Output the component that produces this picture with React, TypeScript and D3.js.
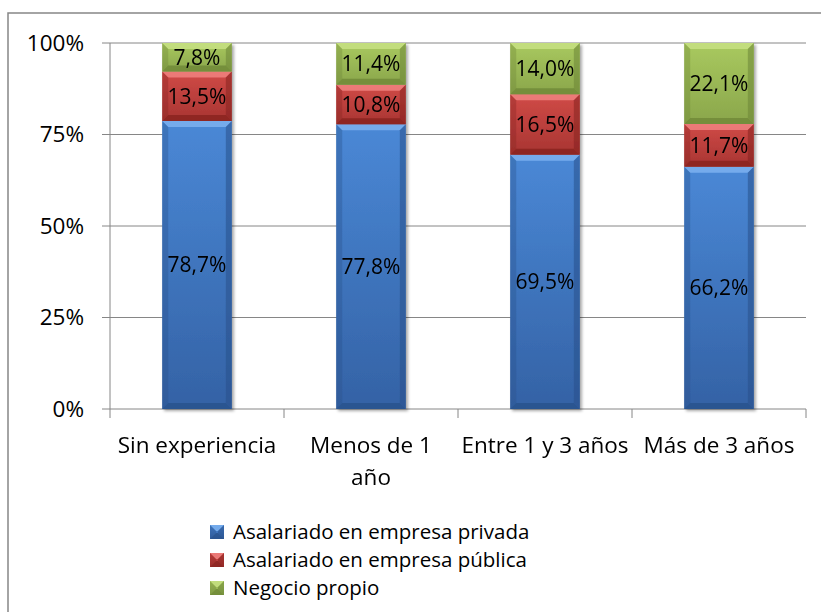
import * as d3 from "d3";

const categories = ["Sin experiencia", "Menos de 1 año", "Entre 1 y 3 años", "Más de 3 años"];
const categoryLines = [["Sin experiencia"], ["Menos de 1", "año"], ["Entre 1 y 3 años"], ["Más de 3 años"]];
const seriesNames = ["Asalariado en empresa privada", "Asalariado en empresa pública", "Negocio propio"];
const privada = [78.7, 77.8, 69.5, 66.2];
const publica = [13.5, 10.8, 16.5, 11.7];
const propio = [7.8, 11.4, 14.0, 22.1];
const yTicks = [0, 25, 50, 75, 100];

const palette = [
    { id: "blue", top: "#4a88d6", bottom: "#3462a5", light: "#7db2f0", dark: "#28508a" },
    { id: "red", top: "#d04a47", bottom: "#a83532", light: "#f08280", dark: "#85231f" },
    { id: "green", top: "#a9c95f", bottom: "#8aa64b", light: "#c7e182", dark: "#6c8536" },
];

const width = 821;
const height = 612;
const plotLeft = 110;
const plotRight = 806;
const plotTop = 43;
const plotBottom = 409;
const font = "'Open Sans', 'DejaVu Sans', sans-serif";

function Bevel({ x, y, w, h, c }: { x: number; y: number; w: number; h: number; c: typeof palette[number] }) {
    const b = Math.min(6, h / 2, w / 2);
    return (
        <g>
            <rect x={x} y={y} width={w} height={h} fill={`url(#grad-${c.id})`} />
            <polygon points={`${x},${y} ${x + w},${y} ${x + w - b},${y + b} ${x + b},${y + b}`} fill={c.light} opacity={0.85} />
            <polygon points={`${x},${y + h} ${x + w},${y + h} ${x + w - b},${y + h - b} ${x + b},${y + h - b}`} fill={c.dark} opacity={0.75} />
            <polygon points={`${x},${y} ${x + b},${y + b} ${x + b},${y + h - b} ${x},${y + h}`} fill={c.dark} opacity={0.35} />
            <polygon points={`${x + w},${y} ${x + w - b},${y + b} ${x + w - b},${y + h - b} ${x + w},${y + h}`} fill={c.dark} opacity={0.55} />
        </g>
    );
}

export default function App() {
    const data = categories.map((cat, i) => ({ cat, privada: privada[i], publica: publica[i], propio: propio[i] }));
    const stack = d3.stack<any>().keys(["privada", "publica", "propio"])(data);

    const x = d3.scaleBand().domain(categories).range([plotLeft, plotRight]).paddingInner(0.6).paddingOuter(0.3);
    const y = d3.scaleLinear().domain([0, 100]).range([plotBottom, plotTop]);
    const step = x.step();
    const fmt = (v: number) => d3.format(".1f")(v).replace(".", ",") + "%";

    return (
        <div style={{ position: "absolute", left: 0, top: 0 }}>
            <svg width={width} height={height} style={{ display: "block" }} fontFamily={font}>
                <defs>
                    {palette.map(c => (
                        <linearGradient key={c.id} id={`grad-${c.id}`} x1="0" y1="0" x2="0" y2="1">
                            <stop offset="0%" stopColor={c.top} />
                            <stop offset="100%" stopColor={c.bottom} />
                        </linearGradient>
                    ))}
                    <filter id="shadow" x="-20%" y="-20%" width="140%" height="140%">
                        <feDropShadow dx="2" dy="2" stdDeviation="1.5" floodColor="#000" floodOpacity="0.35" />
                    </filter>
                </defs>
                <rect width={width} height={height} fill="#fff" />
                <rect x={8} y={13} width={width + 20} height={height + 20} fill="none" stroke="#868686" strokeWidth={1.5} />

                {/* gridlines + y axis */}
                {yTicks.map(t => (
                    <g key={t}>
                        <line x1={plotLeft - 8} x2={plotRight} y1={y(t)} y2={y(t)} stroke="#868686" strokeWidth={1} />
                        <text x={84} y={y(t)} dy="0.35em" textAnchor="end" fontSize={22.5} fill="#000">{t}%</text>
                    </g>
                ))}
                <line x1={plotLeft} x2={plotLeft} y1={plotTop} y2={plotBottom} stroke="#868686" />
                {categories.map((c, i) => (
                    <line key={c} x1={plotLeft + step * (i + 1)} x2={plotLeft + step * (i + 1)} y1={plotBottom} y2={plotBottom + 9} stroke="#868686" />
                ))}
                <line x1={plotLeft} x2={plotLeft} y1={plotBottom} y2={plotBottom + 9} stroke="#868686" />

                {/* bars */}
                <g filter="url(#shadow)">
                    {stack.map((s, si) => s.map((d, i) => (
                        <Bevel key={`${si}-${i}`} x={x(categories[i])!} y={y(d[1])} w={x.bandwidth()} h={y(d[0]) - y(d[1])} c={palette[si]} />
                    )))}
                </g>
                {stack.map((s, si) => s.map((d, i) => (
                    <text key={`l${si}-${i}`} x={x(categories[i])! + x.bandwidth() / 2} y={(y(d[0]) + y(d[1])) / 2} dy="0.35em"
                          textAnchor="middle" fontSize={21} fill="#000">{fmt(d[1] - d[0])}</text>
                )))}

                {/* category labels */}
                {categories.map((c, i) => (
                    <text key={c} x={x(c)! + x.bandwidth() / 2} y={445} textAnchor="middle" fontSize={22.5} fill="#000">
                        {categoryLines[i].map((ln, li) => (
                            <tspan key={li} x={x(c)! + x.bandwidth() / 2} dy={li === 0 ? "0.35em" : 32}>{ln}</tspan>
                        ))}
                    </text>
                ))}

                {/* legend */}
                {seriesNames.map((n, i) => (
                    <g key={n} transform={`translate(210, ${525 + i * 28})`}>
                        <Bevel x={0} y={0} w={14} h={14} c={palette[i]} />
                        <text x={23} y={7} dy="0.35em" fontSize={20.5} fill="#000">{n}</text>
                    </g>
                ))}
            </svg>
        </div>
    );
}
